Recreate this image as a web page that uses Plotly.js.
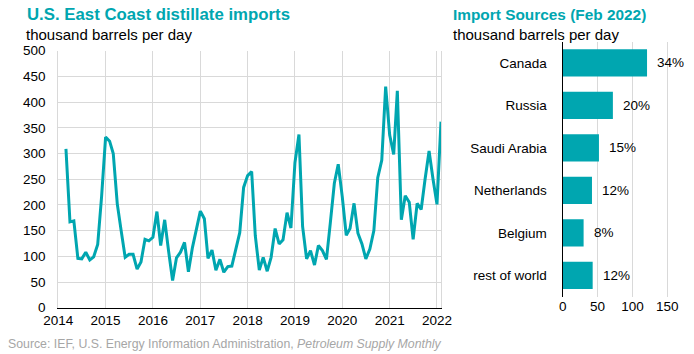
<!DOCTYPE html>
<html>
<head>
<meta charset="utf-8">
<script src="https://cdn.plot.ly/plotly-3.0.1.min.js"></script>
<style>
html,body{margin:0;padding:0;background:#fff;}
#chart{width:694px;height:354px;}
</style>
</head>
<body>
<div id="chart"></div>
<script>
// Monthly U.S. East Coast distillate imports, Mar 2014 - Feb 2022 (thousand b/d)
const startYear = 2014, startMonth = 3;
const imports = [
  309,167,169,96,95,108,93,99,123,216,                 // 2014 Mar-Dec
  332,324,300,202,150,98,104,104,75,89,133,130,        // 2015
  137,187,121,171,110,53,97,108,127,70,117,155,        // 2016
  188,173,96,112,73,94,69,80,81,113,146,234,           // 2017
  257,265,140,73,98,71,98,154,124,132,185,155,         // 2018
  282,337,158,95,111,83,121,111,94,165,242,279,        // 2019
  216,141,154,203,145,124,95,114,150,253,287,430,      // 2020
  336,298,422,171,218,205,133,203,191,250,305,251,     // 2021
  201,362                                              // 2022 Jan-Feb
];
const yearTicks = [2014,2015,2016,2017,2018,2019,2020,2021,2022];
const yTicks = [0,50,100,150,200,250,300,350,400,450,500];

// Import sources, Feb 2022
const sources = ["Canada","Russia","Saudi Arabia","Netherlands","Belgium","rest of world"];
const sourceValues = [121,72,52,42,30,43];
const sourceShares = ["34%","20%","15%","12%","8%","12%"];
const xTicks2 = [0,50,100,150];

const dates = [];
for (let i = 0; i < imports.length; i++) {
  const m0 = startMonth - 1 + i;
  const y = startYear + Math.floor(m0 / 12);
  const m = (m0 % 12) + 1;
  dates.push(y + "-" + String(m).padStart(2, "0") + "-01");
}

const W = 694, H = 354;
const px = v => v / W;
const py = v => (H - v) / H;
const TEAL = "#00A6B0";
const FONT = "Liberation Sans, Arial, sans-serif";

const traces = [
  {
    type: "scatter", mode: "lines", x: dates, y: imports,
    line: {color: TEAL, width: 3}, xaxis: "x", yaxis: "y", hoverinfo: "skip"
  },
  {
    type: "bar", orientation: "h", x: sourceValues, y: sources,
    marker: {color: TEAL}, xaxis: "x2", yaxis: "y2", hoverinfo: "skip"
  }
];

const annotations = [
  {text: "<b>U.S. East Coast distillate imports</b>", x: px(25), y: py(3), xref: "paper", yref: "paper",
   xanchor: "left", yanchor: "top", showarrow: false, font: {family: FONT, size: 16.8, color: TEAL}},
  {text: "thousand barrels per day", x: px(24), y: py(24), xref: "paper", yref: "paper",
   xanchor: "left", yanchor: "top", showarrow: false, font: {family: FONT, size: 15, color: "#000"}},
  {text: "<b>Import Sources (Feb 2022)</b>", x: px(450.5), y: py(4), xref: "paper", yref: "paper",
   xanchor: "left", yanchor: "top", showarrow: false, font: {family: FONT, size: 15.4, color: TEAL}},
  {text: "thousand barrels per day", x: px(450.5), y: py(24), xref: "paper", yref: "paper",
   xanchor: "left", yanchor: "top", showarrow: false, font: {family: FONT, size: 15, color: "#000"}},
  {text: "Source: IEF, U.S. Energy Information Administration, <i>Petroleum Supply Monthly</i>",
   x: px(6), y: py(335), xref: "paper", yref: "paper", xanchor: "left", yanchor: "top",
   showarrow: false, font: {family: FONT, size: 12.3, color: "#A6A6A6"}}
];
for (let i = 0; i < sources.length; i++) {
  annotations.push({
    text: sourceShares[i], x: sourceValues[i], y: sources[i], xref: "x2", yref: "y2",
    xanchor: "left", yanchor: "middle", xshift: 8, showarrow: false,
    font: {family: FONT, size: 13.5, color: "#000"}
  });
}

const layout = {
  width: W, height: H,
  margin: {l: 0, r: 0, t: 0, b: 0},
  paper_bgcolor: "#fff", plot_bgcolor: "rgba(0,0,0,0)",
  showlegend: false,
  font: {family: FONT, size: 13.5, color: "#000"},
  xaxis: {
    type: "date", domain: [px(58.3), px(441)],
    range: ["2014-01-01", "2022-02-01"],
    tickvals: yearTicks.map(y => y + "-01-01"), ticktext: yearTicks.map(String),
    showgrid: true, gridcolor: "#D9D9D9", gridwidth: 1,
    showline: true, linecolor: "#000", linewidth: 1.5,
    ticks: "", zeroline: false, anchor: "y",
    tickfont: {family: FONT, size: 13.5, color: "#000"}
  },
  yaxis: {
    domain: [py(307.7), py(50.7)], range: [0, 500],
    tickvals: yTicks, showgrid: true, gridcolor: "#D9D9D9", gridwidth: 1,
    showline: true, linecolor: "#D9D9D9", mirror: true, zeroline: false,
    ticks: "", ticklabelstandoff: 9, anchor: "x",
    tickfont: {family: FONT, size: 13.5, color: "#000"}
  },
  xaxis2: {
    domain: [px(562.7), px(669)], range: [0, 152.5],
    tickvals: xTicks2, showgrid: true, gridcolor: "#D9D9D9", gridwidth: 1,
    showline: false, zeroline: false, ticks: "", anchor: "y2",
    tickfont: {family: FONT, size: 13.5, color: "#000"}
  },
  yaxis2: {
    domain: [py(296.7), py(41.7)], type: "category",
    categoryorder: "array", categoryarray: sources.slice().reverse(),
    showline: true, linecolor: "#000", linewidth: 1.2, showgrid: false,
    ticks: "", ticklabelstandoff: 12, anchor: "x2",
    tickfont: {family: FONT, size: 13.5, color: "#000"}
  },
  bargap: 0.36,
  annotations: annotations
};

Plotly.newPlot("chart", traces, layout, {staticPlot: true, displayModeBar: false});
</script>
</body>
</html>
